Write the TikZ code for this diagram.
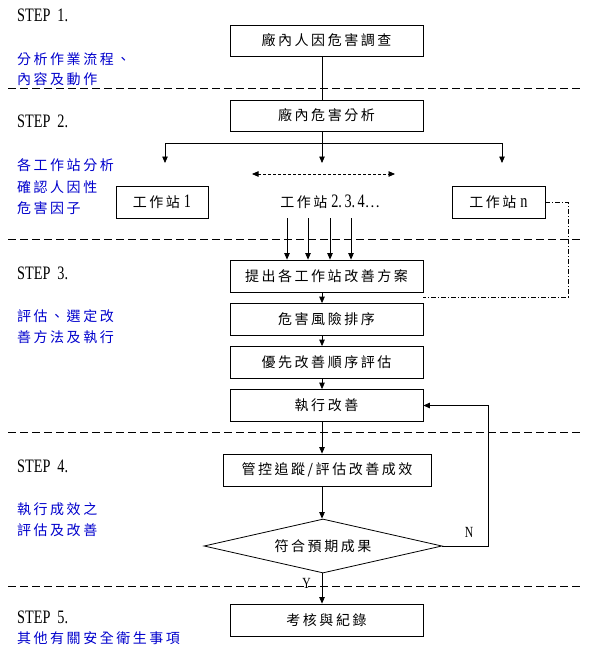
\documentclass[tikz,border=0pt]{standalone}
\usepackage{fontspec}
\setmainfont{Liberation Serif}
\newfontfamily\cjk[LetterSpace=18]{Noto Sans CJK TC}
\newfontfamily\stepfont[FakeStretch=0.75]{Liberation Serif}
\usetikzlibrary{arrows.meta,shapes.geometric,calc}
\definecolor{stepblue}{RGB}{0,0,204}
\newcommand\LatTxt[1]{{\stepfont\fontsize{19pt}{20pt}\selectfont #1}}
\tikzset{
  cjkfont/.style={font=\cjk\fontsize{14pt}{16pt}\selectfont},
  box/.style={draw, line width=0.8pt, minimum width=193pt, minimum height=32pt, inner sep=0pt, cjkfont},
  ln/.style={line width=0.8pt},
  arr/.style={line width=0.8pt, -{Triangle[length=6.5pt,width=5.5pt]}},
  darr/.style={line width=0.8pt, dash pattern=on 3pt off 2pt, {Triangle[length=6.5pt,width=5.5pt]}-{Triangle[length=6.5pt,width=5.5pt]}},
  dashdot/.style={line width=0.8pt, dash pattern=on 5pt off 2pt on 1pt off 2pt},
  sepline/.style={line width=0.8pt, dash pattern=on 8pt off 4pt},
  steplab/.style={anchor=west, inner sep=0pt, font=\stepfont\fontsize{19pt}{21pt}\selectfont},
  bluelab/.style={anchor=west, inner sep=0pt, text=stepblue, cjkfont},
  yn/.style={inner sep=0pt, font=\stepfont\fontsize{15.5pt}{16pt}\selectfont}
}
\begin{document}
\begin{tikzpicture}[x=1pt,y=-1pt]
\useasboundingbox (0,0) rectangle (590,658);
% separators
\draw[sepline] (8,88) -- (583,88);
\draw[sepline] (8,239) -- (583,239);
\draw[sepline] (8,432) -- (583,432);
\draw[sepline] (8,586) -- (583,586);
% left labels
\node[steplab] (s1) at (17,15) {STEP\hspace{7pt}1.};
\node[bluelab] (t11) at (17,59) {分析作業流程、};
\node[bluelab] (t12) at (17,79) {內容及動作};
\node[steplab] (s2) at (17,121) {STEP\hspace{7pt}2.};
\node[bluelab] (t21) at (17,165) {各工作站分析};
\node[bluelab] (t22) at (17,187) {確認人因性};
\node[bluelab] (t23) at (17,208) {危害因子};
\node[steplab] (s3) at (17,273) {STEP\hspace{7pt}3.};
\node[bluelab] (t31) at (17,316) {評估、選定改};
\node[bluelab] (t32) at (17,337) {善方法及執行};
\node[steplab] (s4) at (17,466) {STEP\hspace{7pt}4.};
\node[bluelab] (t41) at (17,509) {執行成效之};
\node[bluelab] (t42) at (17,530) {評估及改善};
\node[steplab] (s5) at (17,617) {STEP\hspace{7pt}5.};
\node[bluelab] (t51) at (17,638) {其他有關安全衛生事項};
% boxes
\coordinate (sp) at (322,0);
\node[box, minimum height=31pt] (b1) at (326.5,40.5) {廠內人因危害調查};
\node[box, minimum height=31pt] (b2) at (326.5,115.5) {廠內危害分析};
\node[box, minimum width=92pt] (w1) at (162,202) {工作站\hspace{4pt}\LatTxt{1}};
\node[cjkfont, minimum height=32pt, inner sep=0pt] (w234) at (330,202) {工作站\hspace{4pt}\LatTxt{2.\kern2.5pt 3.\kern2.5pt 4}…};
\node[box, minimum width=93pt] (wn) at (498.5,202) {工作站\hspace{4pt}\LatTxt{n}};
\node[box] (b3) at (326.5,276) {提出各工作站改善方案};
\node[box] (b4) at (326.5,319.5) {危害風險排序};
\node[box] (b5) at (326.5,362.5) {優先改善順序評估};
\node[box] (b6) at (326.5,405.5) {執行改善};
\node[box, minimum width=208pt] (b7) at (327,470) {管控追蹤/評估改善成效};
\node[draw, diamond, shape aspect=4.4, line width=0.8pt, minimum width=238pt, minimum height=54pt, inner sep=0pt, cjkfont] (dia) at (323,546) {符合預期成果};
\node[box] (b8) at (326.5,620) {考核與紀錄};
% connectors
\draw[ln] (b1.south -| sp) -- (b2.north -| sp);
\coordinate (br) at (322,143);
\coordinate (a1) at (165,163);
\coordinate (a2) at (322,163);
\coordinate (a3) at (502,163);
\draw[ln] (b2.south -| sp) -- (br);
\draw[arr] (br) -| (a1);
\draw[arr] (br) -| (a3);
\draw[arr] (br) -- (a2);
\coordinate (d1) at (252,174);
\coordinate (d2) at (395,174);
\draw[darr] (d1) -- (d2);
\coordinate (k1) at (287,0);
\coordinate (k2) at (308,0);
\coordinate (k3) at (330,0);
\coordinate (k4) at (351,0);
\draw[arr] (w234.south -| k1) -- (b3.north -| k1);
\draw[arr] (w234.south -| k2) -- (b3.north -| k2);
\draw[arr] (w234.south -| k3) -- (b3.north -| k3);
\draw[arr] (w234.south -| k4) -- (b3.north -| k4);
\coordinate (dc) at (568,297);
\coordinate (dd) at (423,297);
\draw[dashdot] (wn.east) -| (dc) -- (dd);
\draw[arr] (b3.south -| sp) -- (b4.north -| sp);
\draw[arr] (b4.south -| sp) -- (b5.north -| sp);
\draw[arr] (b5.south -| sp) -- (b6.north -| sp);
\draw[arr] (b6.south -| sp) -- (b7.north -| sp);
\draw[arr] (b7.south -| sp) -- (dia.north -| sp);
\draw[arr] (dia.south -| sp) -- (b8.north -| sp);
\coordinate (nb) at (488,405.5);
\draw[arr] (dia.east) -| (nb) -- (b6.east);
\node[yn] (nlab) at (469,532) {N};
\node[yn] (ylab) at (306.5,583) {Y};
\end{tikzpicture}
\end{document}
